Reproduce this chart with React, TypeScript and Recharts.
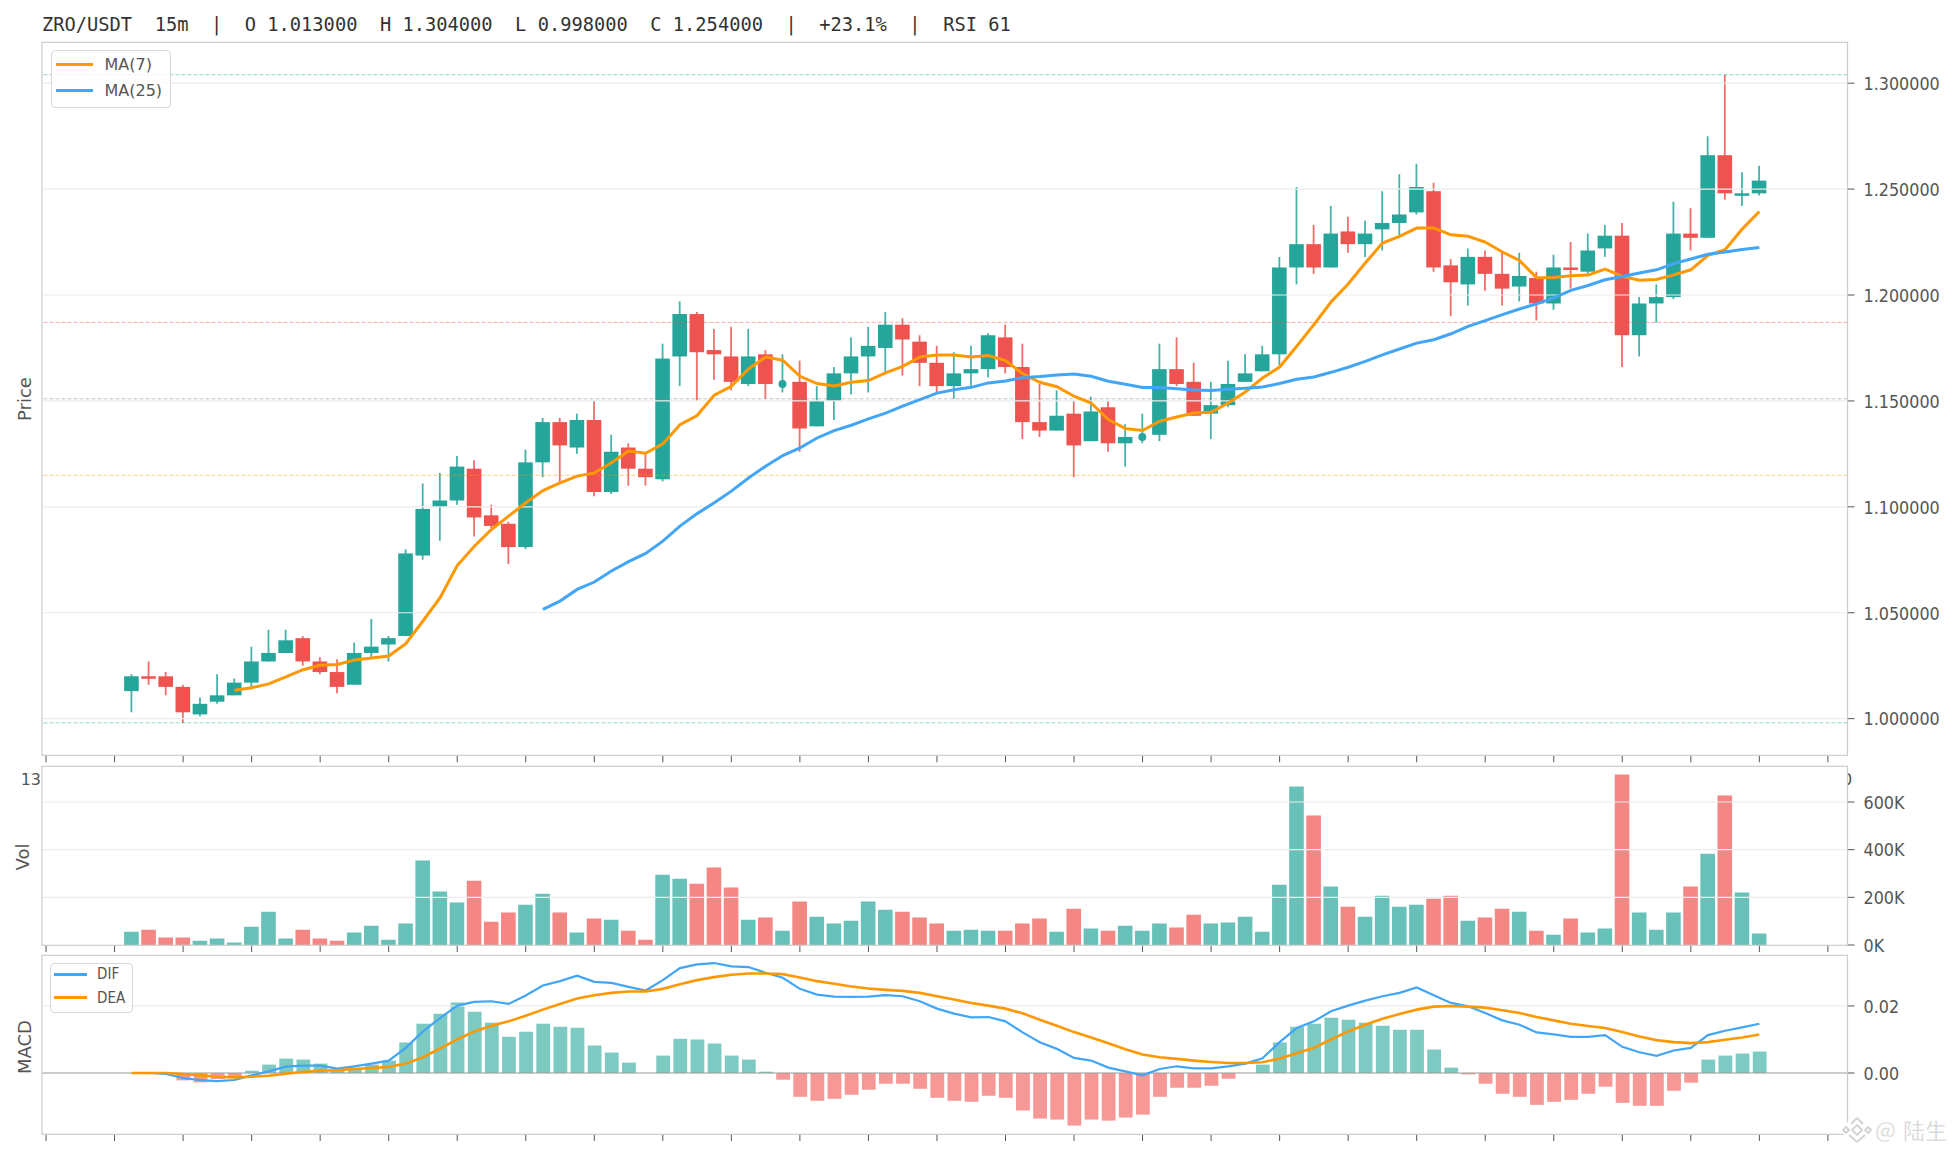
import { Bar, Cell, ComposedChart, Line, ReferenceLine, XAxis, YAxis } from "recharts";

const opens = [
  1.013, 1.02, 1.02, 1.015, 1.002, 1.008, 1.011, 1.017, 1.027, 1.031, 1.038, 1.027, 1.022, 1.016, 1.031, 1.035,
  1.039, 1.077, 1.1, 1.103, 1.118, 1.096, 1.092, 1.081, 1.121, 1.14, 1.128, 1.141, 1.107, 1.128, 1.118, 1.113,
  1.171, 1.191, 1.174, 1.171, 1.158, 1.172, 1.158, 1.159, 1.138, 1.15, 1.163, 1.171, 1.175, 1.186, 1.178, 1.168,
  1.157, 1.163, 1.165, 1.18, 1.166, 1.14, 1.136, 1.144, 1.131, 1.147, 1.13, 1.133, 1.134, 1.165, 1.159, 1.144,
  1.148, 1.159, 1.164, 1.172, 1.213, 1.224, 1.213, 1.23, 1.224, 1.231, 1.234, 1.239, 1.249, 1.214, 1.205, 1.218,
  1.21, 1.204, 1.208, 1.196, 1.213, 1.211, 1.222, 1.228, 1.181, 1.196, 1.199, 1.229, 1.227, 1.266, 1.247, 1.248,
];
const highs = [
  1.021, 1.027, 1.022, 1.016, 1.01, 1.021, 1.019, 1.034, 1.042, 1.042, 1.039, 1.029, 1.028, 1.036, 1.047, 1.039,
  1.08, 1.111, 1.116, 1.124, 1.122, 1.101, 1.093, 1.127, 1.142, 1.142, 1.144, 1.15, 1.134, 1.13, 1.125, 1.177,
  1.197, 1.192, 1.184, 1.185, 1.184, 1.174, 1.172, 1.169, 1.157, 1.166, 1.18, 1.185, 1.192, 1.189, 1.181, 1.176,
  1.173, 1.176, 1.182, 1.186, 1.177, 1.158, 1.155, 1.15, 1.152, 1.15, 1.139, 1.144, 1.177, 1.18, 1.168, 1.159,
  1.169, 1.172, 1.176, 1.218, 1.251, 1.233, 1.242, 1.237, 1.235, 1.249, 1.257, 1.262, 1.253, 1.217, 1.222, 1.221,
  1.22, 1.22, 1.211, 1.219, 1.225, 1.229, 1.233, 1.234, 1.199, 1.205, 1.244, 1.241, 1.275, 1.304, 1.258, 1.261,
];
const lows = [
  1.003, 1.016, 1.011, 0.998, 1.001, 1.007, 1.011, 1.015, 1.027, 1.031, 1.025, 1.021, 1.012, 1.016, 1.029, 1.027,
  1.039, 1.075, 1.084, 1.101, 1.086, 1.09, 1.073, 1.08, 1.114, 1.111, 1.125, 1.105, 1.106, 1.11, 1.11, 1.112,
  1.157, 1.15, 1.16, 1.155, 1.157, 1.151, 1.154, 1.126, 1.138, 1.141, 1.153, 1.154, 1.163, 1.162, 1.157, 1.154,
  1.151, 1.157, 1.161, 1.163, 1.132, 1.133, 1.136, 1.114, 1.131, 1.126, 1.119, 1.13, 1.131, 1.157, 1.143, 1.132,
  1.147, 1.159, 1.164, 1.167, 1.205, 1.21, 1.213, 1.22, 1.218, 1.221, 1.228, 1.238, 1.211, 1.19, 1.195, 1.202,
  1.195, 1.197, 1.188, 1.193, 1.203, 1.21, 1.218, 1.166, 1.171, 1.187, 1.198, 1.221, 1.227, 1.245, 1.242, 1.247,
];
const closes = [
  1.02, 1.019, 1.015, 1.003, 1.007, 1.011, 1.017, 1.027, 1.031, 1.037, 1.027, 1.022, 1.015, 1.031, 1.034, 1.038,
  1.078, 1.099, 1.103, 1.119, 1.095, 1.091, 1.081, 1.121, 1.14, 1.129, 1.141, 1.107, 1.126, 1.118, 1.114, 1.17,
  1.191, 1.173, 1.172, 1.159, 1.171, 1.158, 1.158, 1.137, 1.15, 1.163, 1.171, 1.176, 1.186, 1.179, 1.168, 1.157,
  1.163, 1.165, 1.181, 1.166, 1.14, 1.136, 1.143, 1.129, 1.145, 1.13, 1.133, 1.133, 1.165, 1.158, 1.143, 1.148,
  1.158, 1.163, 1.172, 1.213, 1.224, 1.213, 1.229, 1.224, 1.229, 1.234, 1.238, 1.251, 1.213, 1.206, 1.218, 1.21,
  1.203, 1.209, 1.196, 1.213, 1.212, 1.221, 1.228, 1.181, 1.196, 1.199, 1.229, 1.227, 1.266, 1.248, 1.248, 1.254,
];
const ma7 = [
  null, null, null, null, null, null, 1.0134, 1.0146, 1.0164, 1.0197, 1.0231, 1.0252, 1.0256, 1.0277, 1.0286, 1.0296,
  1.0354, 1.0461, 1.0571, 1.0723, 1.0814, 1.0893, 1.0956, 1.1019, 1.1077, 1.1113, 1.1145, 1.116, 1.1208, 1.1263, 1.1253, 1.1297,
  1.1388, 1.1431, 1.1527, 1.1569, 1.1651, 1.1707, 1.1692, 1.1616, 1.1582, 1.1571, 1.1588, 1.1596, 1.1632, 1.1663, 1.1707, 1.1717,
  1.1717, 1.1707, 1.1714, 1.169, 1.1629, 1.1588, 1.1567, 1.1522, 1.149, 1.1412, 1.1369, 1.136, 1.1404, 1.1424, 1.1443, 1.1446,
  1.149, 1.1542, 1.1608, 1.166, 1.1758, 1.186, 1.1967, 1.2052, 1.2151, 1.2245, 1.2277, 1.2316, 1.2316, 1.2284, 1.2277, 1.225,
  1.2203, 1.2163, 1.2082, 1.2083, 1.2091, 1.2094, 1.2122, 1.2088, 1.207, 1.2073, 1.2095, 1.2119, 1.2187, 1.2214, 1.2311, 1.2394,
];
const ma25 = [
  null, null, null, null, null, null, null, null, null, null, null, null, null, null, null, null,
  null, null, null, null, null, null, null, null, 1.0516, 1.0555, 1.061, 1.0645, 1.0697, 1.0741, 1.078, 1.0838,
  1.0909, 1.0968, 1.1019, 1.1074, 1.1136, 1.1192, 1.1242, 1.1278, 1.1325, 1.136, 1.1385, 1.1415, 1.1442, 1.1475, 1.1506, 1.1537,
  1.1553, 1.1564, 1.1585, 1.1594, 1.161, 1.1615, 1.1622, 1.1627, 1.1616, 1.1593, 1.1579, 1.1563, 1.1563, 1.1558, 1.1552, 1.1549,
  1.1555, 1.156, 1.1566, 1.1582, 1.1602, 1.1613, 1.1635, 1.1659, 1.1687, 1.1717, 1.1745, 1.1773, 1.1789, 1.1817, 1.1852, 1.1879,
  1.1907, 1.1934, 1.1958, 1.1986, 1.2022, 1.2045, 1.2072, 1.2087, 1.2104, 1.2119, 1.2148, 1.217, 1.2192, 1.2203, 1.2215, 1.2224,
];
const volumes = [
  56, 64, 31, 31, 18, 27, 10, 77, 140, 27, 64, 27, 18, 52, 81, 22,
  90, 354, 224, 178, 270, 98, 136, 169, 215, 136, 52, 111, 106, 60, 22, 295,
  278, 257, 325, 241, 106, 115, 60, 182, 119, 90, 102, 182, 148, 140, 115, 90,
  60, 64, 60, 60, 90, 111, 56, 152, 69, 60, 81, 60, 90, 73, 127, 90,
  94, 119, 56, 253, 665, 543, 245, 161, 119, 207, 161, 169, 194, 207, 102, 115,
  152, 140, 60, 43, 111, 52, 69, 715, 136, 64, 136, 245, 383, 627, 220, 48,
].map((v) => v * 1000);
const hist = [
  0, 0, 0, -0.0022, -0.0028, -0.0018, -0.0012, 0.0007, 0.0025, 0.0043, 0.004, 0.0028, 0.001, 0.0012, 0.0025, 0.0037,
  0.0091, 0.0147, 0.0177, 0.021, 0.0183, 0.015, 0.0108, 0.0123, 0.0147, 0.0138, 0.0135, 0.0082, 0.0061, 0.0031, 0, 0.0052,
  0.0102, 0.01, 0.0088, 0.0052, 0.004, 0.0004, -0.002, -0.0071, -0.0083, -0.0077, -0.0065, -0.005, -0.0032, -0.0032, -0.0047, -0.0074,
  -0.0083, -0.0086, -0.0068, -0.0074, -0.0112, -0.0136, -0.0139, -0.0157, -0.0139, -0.0142, -0.0133, -0.0124, -0.0071, -0.0044, -0.0044, -0.0038,
  -0.0017, 0, 0.0025, 0.0091, 0.0138, 0.0147, 0.0165, 0.0159, 0.015, 0.0141, 0.0129, 0.0129, 0.007, 0.0016, -0.0004, -0.0032,
  -0.0062, -0.0071, -0.0095, -0.0086, -0.008, -0.0062, -0.0041, -0.0089, -0.0098, -0.0098, -0.0053, -0.0029, 0.004, 0.0052, 0.0058, 0.0064,
];
const dif = [
  0, 0, -0.0003, -0.0015, -0.0021, -0.0024, -0.0021, -0.0007, 0.0005, 0.0019, 0.0022, 0.0022, 0.0013, 0.002, 0.0028, 0.0037,
  0.0075, 0.0124, 0.0164, 0.0201, 0.0212, 0.0214, 0.0206, 0.0231, 0.0261, 0.0274, 0.029, 0.0272, 0.0269, 0.0257, 0.0246, 0.0277,
  0.0313, 0.0324, 0.0328, 0.0318, 0.0316, 0.0299, 0.0284, 0.0251, 0.0234, 0.0228, 0.0227, 0.0228, 0.0232, 0.0229, 0.0214, 0.0192,
  0.0177, 0.0166, 0.0167, 0.0154, 0.0121, 0.0092, 0.0072, 0.0045, 0.0037, 0.0016, 0.0005, -0.0007, 0.0012, 0.002, 0.0014, 0.0014,
  0.002, 0.0028, 0.0044, 0.0092, 0.0134, 0.0154, 0.0184, 0.0201, 0.0216, 0.0229, 0.0239, 0.0255, 0.0232, 0.0209, 0.0199, 0.0179,
  0.0157, 0.0144, 0.0121, 0.0115, 0.0108, 0.0108, 0.0113, 0.0078, 0.0062, 0.0051, 0.0067, 0.0075, 0.0113, 0.0126, 0.0136, 0.0147,
];
const dea = [
  0, 0, 0, -0.0003, -0.0007, -0.0011, -0.0013, -0.0011, -0.0008, -0.0002, 0.0003, 0.0007, 0.0008, 0.0012, 0.0015, 0.0018,
  0.0028, 0.0047, 0.0073, 0.01, 0.0124, 0.0141, 0.0154, 0.0171, 0.0189, 0.0206, 0.0222, 0.0232, 0.0239, 0.0243, 0.0243, 0.0251,
  0.0265, 0.0277, 0.0286, 0.0293, 0.0297, 0.0297, 0.0295, 0.0285, 0.0274, 0.0266, 0.0258, 0.0252, 0.0248, 0.0245, 0.0239, 0.0229,
  0.0219, 0.0209, 0.0201, 0.0192, 0.0178, 0.0159, 0.0141, 0.0122, 0.0106, 0.0089, 0.0071, 0.0055, 0.0047, 0.0042, 0.0037, 0.0033,
  0.003, 0.003, 0.0032, 0.0043, 0.0059, 0.0075, 0.01, 0.0124, 0.0144, 0.0162, 0.0176, 0.0189, 0.0198, 0.02, 0.0198, 0.0195,
  0.0187, 0.0179, 0.0167, 0.0157, 0.0147, 0.014, 0.0134, 0.0122, 0.0109, 0.0098, 0.0092, 0.0089, 0.0092, 0.0099, 0.0106, 0.0115,
];

const xTicks = [-5, -1, 3, 7, 11, 15, 19, 23, 27, 31, 35, 39, 43, 47, 51, 55, 59, 63, 67, 71, 75, 79, 83, 87, 91, 95, 99];
const priceTicks = [1.0, 1.05, 1.1, 1.15, 1.2, 1.25, 1.3];
const volTicks = [0, 200000, 400000, 600000];
const macdTicks = [0, 0.02];
const fibLevels = [
  { value: 1.304, color: "#26a69a" },
  { value: 1.1871, color: "#ef5350" },
  { value: 1.151, color: "#888888" },
  { value: 1.1149, color: "#ff9800" },
  { value: 0.998, color: "#26a69a" },
];

const UP = "#26a69a";
const DOWN = "#ef5350";
const ORANGE = "#ff9800";
const BLUE = "#42a5f5";
const TICK_COLOR = "#555555";
const GRID_COLOR = "#ececec";
const X_DOMAIN = [-5.235, 100.145];
const LEFT = 42;
const AXIS_W = 108.5;

const rows = opens.map((open, i) => ({
  i,
  open,
  high: highs[i],
  low: lows[i],
  close: closes[i],
  ma7: ma7[i],
  ma25: ma25[i],
  volume: volumes[i],
  up: closes[i] >= open,
  hist: hist[i],
  dif: dif[i],
  dea: dea[i],
}));

// the bar spans low..high, the body is placed inside it from the same scale
const Candle = (props: any) => {
  const { x, y, width, height, payload } = props;
  const k = height / (payload.high - payload.low);
  const cx = x + width / 2;
  const color = payload.up ? UP : DOWN;
  const top = y + (payload.high - Math.max(payload.open, payload.close)) * k;
  const h = Math.max(Math.abs(payload.open - payload.close) * k, 2.5);
  return (
    <g>
      <line x1={cx} x2={cx} y1={y} y2={y + height} stroke={color} strokeWidth={1.8} strokeOpacity={0.85} />
      {payload.open === payload.close ? (
        <circle cx={cx} cy={top} r={4} fill={color} />
      ) : (
        <rect x={x} y={top} width={width} height={h} fill={color} />
      )}
    </g>
  );
};

// the labels in the reference are a little narrower than the font is tall
const squeezedTick = (format: (v: number) => string) => (props: any) => (
  <text
    transform={`translate(${props.x} ${props.y + 6.8}) scale(0.93 1)`}
    fontFamily="DejaVu Sans"
    fontSize={17.2}
    fill={TICK_COLOR}
  >
    {format(props.payload.value)}
  </text>
);

const PanelLegend = ({ left, top, width, height, size, squeeze, inset, gap, items }: any) => (
  <div
    style={{
      position: "absolute",
      left,
      top,
      width,
      height,
      boxSizing: "border-box",
      border: "1.5px solid #d8d8d8",
      borderRadius: 4,
      background: "rgba(255,255,255,0.82)",
      fontFamily: "DejaVu Sans",
      fontSize: size,
      color: TICK_COLOR,
    }}
  >
    {items.map((it: any) => (
      <div
        key={it.name}
        style={{
          position: "absolute",
          left: inset,
          top: it.y,
          display: "flex",
          alignItems: "center",
          lineHeight: "18px",
        }}
      >
        <div style={{ width: it.w, height: 3, background: it.color, marginRight: gap }} />
        <span style={{ display: "inline-block", transform: `scaleX(${squeeze})`, transformOrigin: "left" }}>{it.name}</span>
      </div>
    ))}
  </div>
);

const gridLines = (ticks: number[]) =>
  ticks.map((t) => <ReferenceLine key={`g${t}`} y={t} stroke={GRID_COLOR} strokeWidth={1.2} />);

const xAxis = (
  <XAxis
    dataKey="i"
    type="number"
    domain={X_DOMAIN}
    ticks={xTicks}
    interval={0}
    allowDataOverflow
    height={10}
    axisLine={false}
    tickSize={7}
    tickLine={{ stroke: TICK_COLOR, strokeWidth: 1 }}
    tickFormatter={() => ""}
  />
);

const yAxisProps = {
  orientation: "right" as const,
  width: AXIS_W,
  axisLine: false,
  tickSize: 7,
  tickMargin: 9,
  interval: 0,
  allowDataOverflow: true,
  tickLine: { stroke: TICK_COLOR, strokeWidth: 1 },
};

const PriceChart = () => (
  <ComposedChart width={1956} height={765.3} data={rows} margin={{ top: 42.3, right: 0, bottom: 0, left: LEFT }}>
    {xAxis}
    <YAxis {...yAxisProps} domain={[0.9827, 1.3193]} ticks={priceTicks} tick={squeezedTick((v) => v.toFixed(6))} />
    <Bar dataKey={(d: any) => [d.low, d.high]} barSize={14.6} shape={<Candle />} isAnimationActive={false} />
    {gridLines(priceTicks)}
    {fibLevels.map((f) => (
      <ReferenceLine key={f.value} y={f.value} stroke={f.color} strokeOpacity={0.5} strokeWidth={1} strokeDasharray="4 2" />
    ))}
    <Line dataKey="ma7" stroke={ORANGE} strokeWidth={3} dot={false} isAnimationActive={false} />
    <Line dataKey="ma25" stroke={BLUE} strokeWidth={3} dot={false} isAnimationActive={false} />
  </ComposedChart>
);

const VolChart = () => (
  <ComposedChart width={1956} height={189} data={rows} margin={{ top: 0, right: 0, bottom: 0, left: LEFT }}>
    {xAxis}
    <YAxis {...yAxisProps} domain={[0, 751000]} ticks={volTicks} tick={squeezedTick((v) => `${v / 1000}K`)} />
    <Bar dataKey="volume" barSize={14.6} fillOpacity={0.7} isAnimationActive={false}>
      {rows.map((r) => (
        <Cell key={r.i} fill={r.up ? UP : DOWN} />
      ))}
    </Bar>
    {gridLines(volTicks.slice(1))}
  </ComposedChart>
);

const MacdChart = () => (
  <ComposedChart width={1956} height={189} data={rows} margin={{ top: 0, right: 0, bottom: 0, left: LEFT }}>
    {xAxis}
    <YAxis {...yAxisProps} domain={[-0.0182, 0.0352]} ticks={macdTicks} tick={squeezedTick((v) => v.toFixed(2))} />
    <Bar dataKey="hist" barSize={13.8} fillOpacity={0.6} isAnimationActive={false}>
      {rows.map((r) => (
        <Cell key={r.i} fill={r.hist >= 0 ? UP : DOWN} />
      ))}
    </Bar>
    {gridLines([0.02])}
    <ReferenceLine y={0} stroke="#999999" strokeWidth={1.2} />
    <Line dataKey="dif" stroke={BLUE} strokeWidth={2.2} dot={false} isAnimationActive={false} />
    <Line dataKey="dea" stroke={ORANGE} strokeWidth={2.6} dot={false} isAnimationActive={false} />
  </ComposedChart>
);

const panelBoxes = [
  { y: 42.3, h: 713 },
  { y: 766.3, h: 179 },
  { y: 955.3, h: 179 },
];

const yLabels = [
  { text: "Price", x: 24, y: 399 },
  { text: "Vol", x: 22.5, y: 857 },
  { text: "MACD", x: 24.2, y: 1047 },
];

const Overlay = () => (
  <svg width={1956} height={1156} style={{ position: "absolute", left: 0, top: 0, pointerEvents: "none" }}>
    <defs>
      <clipPath id="rightCut">
        <rect x={1848} y={766} width={6} height={24} />
      </clipPath>
    </defs>
    <text
      transform="translate(42 31.3) scale(0.955 1)"
      fontFamily="DejaVu Sans Mono"
      fontSize={19.6}
      fill="#333333"
      xmlSpace="preserve"
    >
      ZRO/USDT  15m  |  O 1.013000  H 1.304000  L 0.998000  C 1.254000  |  +23.1%  |  RSI 61
    </text>
    {panelBoxes.map((p) => (
      <rect key={p.y} x={LEFT} y={p.y} width={1956 - LEFT - AXIS_W} height={p.h} fill="none" stroke="#cccccc" strokeWidth={1.2} />
    ))}
    {yLabels.map((l) => (
      <text
        key={l.text}
        x={l.x}
        y={l.y}
        transform={`rotate(-90 ${l.x} ${l.y})`}
        textAnchor="middle"
        dominantBaseline="central"
        fontFamily="DejaVu Sans"
        fontSize={18}
        fill={TICK_COLOR}
      >
        {l.text}
      </text>
    ))}
    <text x={41} y={785} textAnchor="end" fontFamily="DejaVu Sans" fontSize={16} fill={TICK_COLOR}>
      13
    </text>
    <text x={1842} y={785} clipPath="url(#rightCut)" fontFamily="DejaVu Sans" fontSize={16} fill={TICK_COLOR}>
      0
    </text>
    {/* watermark */}
    <path d="M1857 1114 L1875 1130 L1857 1146 L1839 1130 Z" fill="#fff" />
    <g fill="none" stroke="#d2d2d2" strokeWidth={1.8}>
      <path d="M1857 1118 L1863 1124 M1857 1118 L1851 1124" />
      <path d="M1857 1142 L1865 1135 M1857 1142 L1849 1135" />
      <path d="M1857 1125 L1862 1130 L1857 1135 L1852 1130 Z" />
      <path d="M1846 1127 L1849 1130 L1846 1133 L1843 1130 Z" />
      <path d="M1868 1127 L1871 1130 L1868 1133 L1865 1130 Z" />
    </g>
    <text x={1875} y={1138} fontFamily="Noto Sans CJK SC" fontSize={22} fill="#cdcdcd" stroke="#fff" strokeWidth={0.4}>
      @
    </text>
    <text x={1903} y={1139} fontFamily="Noto Sans CJK SC" fontSize={22} fill="#cdcdcd" stroke="#fff" strokeWidth={0.4}>
      陆生
    </text>
  </svg>
);

export default function App() {
  return (
    <div style={{ position: "absolute", left: 0, top: 0, width: 1956, height: 1156, background: "#fff" }}>
      <div style={{ position: "absolute", left: 0, top: 0 }}>
        <PriceChart />
      </div>
      <div style={{ position: "absolute", left: 0, top: 766.3 }}>
        <VolChart />
      </div>
      <div style={{ position: "absolute", left: 0, top: 955.3 }}>
        <MacdChart />
      </div>
      <Overlay />
      <PanelLegend
        left={50.5}
        top={50}
        width={120}
        height={58}
        size={16}
        squeeze={1}
        inset={4}
        gap={12}
        items={[
          { name: "MA(7)", color: ORANGE, w: 37, y: 4.8 },
          { name: "MA(25)", color: BLUE, w: 37, y: 30.8 },
        ]}
      />
      <PanelLegend
        left={50}
        top={962.7}
        width={82.6}
        height={50}
        size={15}
        squeeze={0.9}
        inset={2.5}
        gap={10.7}
        items={[
          { name: "DIF", color: BLUE, w: 33, y: 1.8 },
          { name: "DEA", color: ORANGE, w: 33, y: 25.1 },
        ]}
      />
    </div>
  );
}
